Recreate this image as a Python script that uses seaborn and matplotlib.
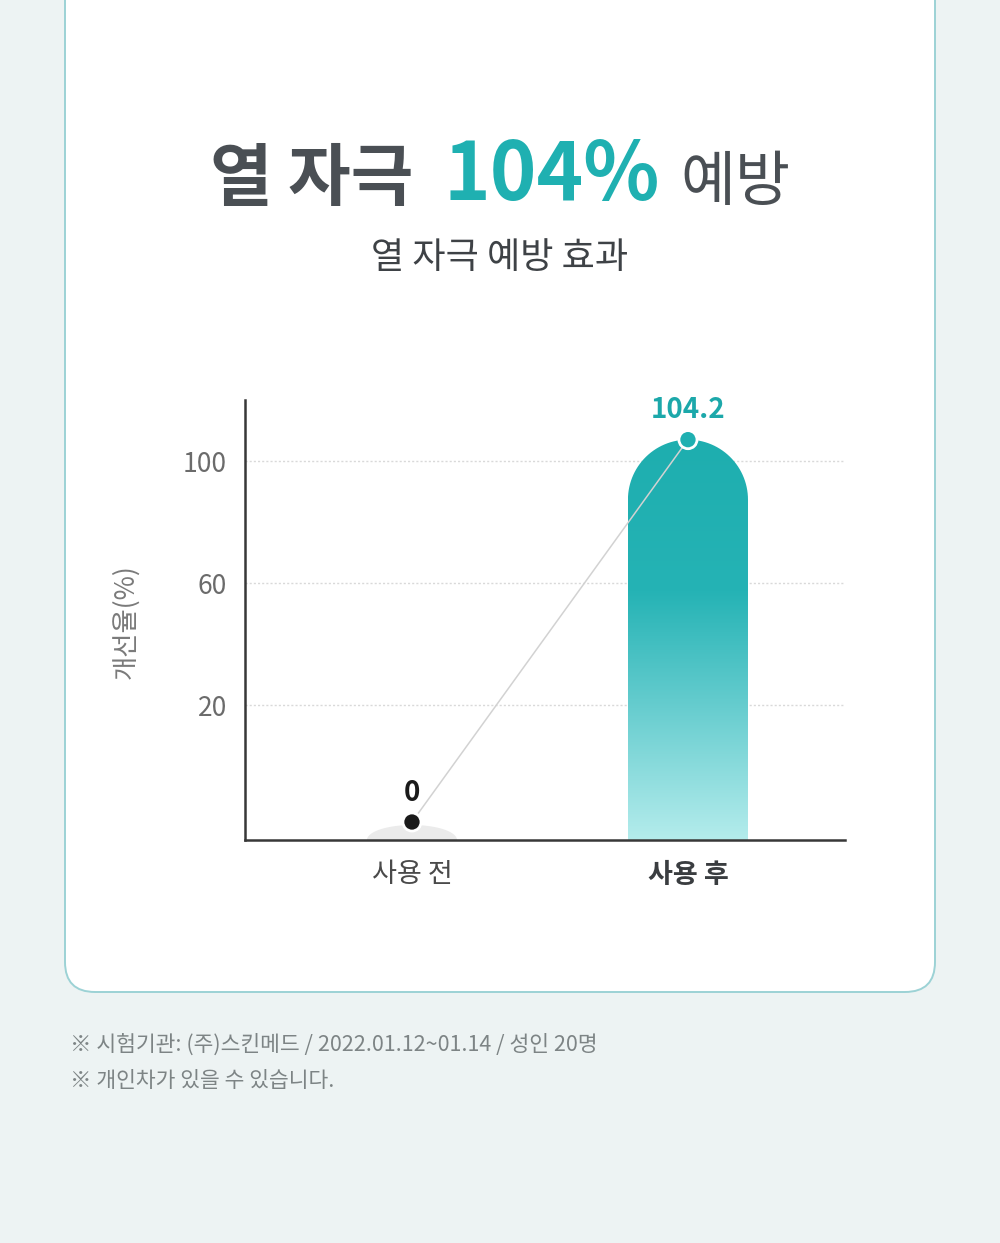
import numpy as np
import pandas as pd
import matplotlib
matplotlib.use('Agg')
import matplotlib.pyplot as plt
import seaborn as sns
from matplotlib.patches import FancyBboxPatch, PathPatch
from matplotlib.path import Path
from matplotlib.colors import LinearSegmentedColormap

# ---------------- data ----------------
categories = ['사용 전', '사용 후']
values = [0, 104.2]
value_labels = ['0', '104.2']
yticks = [20, 60, 100]
ylabel = '개선율(%)'
title_parts = ['열 자극', '104%', '예방']
subtitle = '열 자극 예방 효과'
footnotes = ['※ 시험기관: (주)스킨메드 / 2022.01.12~01.14 / 성인 20명',
             '※ 개인차가 있을 수 있습니다.']

# ---------------- style ----------------
sns.set_theme(style='white')
plt.rcParams['font.family'] = ['Noto Sans CJK KR', 'DejaVu Sans']
plt.rcParams['axes.unicode_minus'] = False

TEAL = '#1fb0b1'
DARK = '#4a4f54'

W, H = 1000, 1243
fig = plt.figure(figsize=(W / 100, H / 100), dpi=100)
fig.patch.set_facecolor('#edf3f3')

# background card
bg = fig.add_axes([0, 0, 1, 1], zorder=0)
bg.set_xlim(0, W)
bg.set_ylim(H, 0)
bg.axis('off')
card = FancyBboxPatch((65, -80), 870, 1072,
                      boxstyle='round,pad=0,rounding_size=30',
                      fc='white', ec='#9cd2d5', lw=1.4)
bg.add_patch(card)

# ---------------- chart axes ----------------
ax = fig.add_axes([245 / W, 1 - 840 / H, 600 / W, 440 / H], zorder=1)
ax.patch.set_alpha(0)

df = pd.DataFrame({'group': categories, 'value': values})

sns.barplot(data=df, x='group', y='value', width=0.435, color=TEAL, ax=ax)

# piecewise-linear value scale (the reference axis is not uniform)
scale_v = [-50, -3.08, 0, 20, 100, 112, 300]
scale_px = [840 + 46.9 * 3.05, 840, 822, 705, 461, 400, 400 - 188 * 5.08]
scale_f = [(840 - p) / 440 for p in scale_px]


def fwd(v):
    return np.interp(np.asarray(v, dtype=float), scale_v, scale_f)


def inv(f):
    return np.interp(np.asarray(f, dtype=float), scale_f, scale_v)


ax.set_yscale('function', functions=(fwd, inv))
XLIM = (-0.605, 1.569)
YLIM = (-3.08, 112)
ax.set_xlim(*XLIM)
ax.set_ylim(*YLIM)

# rounded gradient bars (drawn in figure coordinates from the bar geometry)
to_fig = ax.transData + fig.transFigure.inverted()
cmap = LinearSegmentedColormap.from_list(
    'tealgrad', [(0.0, '#1eaeaf'), (0.38, '#25b3b5'), (0.65, '#62cbcd'), (1.0, '#b4ecec')])
grad = np.linspace(0, 1, 256).reshape(-1, 1)

bars = list(ax.patches)
for p, v in zip(bars, values):
    x0, w = p.get_x(), p.get_width()
    p.set_visible(False)
    (fx0, fy0) = to_fig.transform((x0, YLIM[0]))
    (fx1, fy1) = to_fig.transform((x0 + w, v))
    cx = (fx0 + fx1) / 2
    hw = (fx1 - fx0) / 2
    t = np.linspace(np.pi, 0, 60)
    if v > 0:
        dome = hw * W / H
        xs = cx + hw * np.cos(t)
        ys = (fy1 - dome) + dome * np.sin(t)
        verts = [(fx0, fy0)] + list(zip(xs, ys)) + [(fx1, fy0), (fx0, fy0)]
        codes = [Path.MOVETO] + [Path.LINETO] * (len(verts) - 2) + [Path.CLOSEPOLY]
        clip = PathPatch(Path(verts, codes), transform=fig.transFigure)
        im = ax.imshow(grad, cmap=cmap, aspect='auto', origin='upper',
                       extent=(fx0, fx1, fy0, fy1), transform=fig.transFigure,
                       interpolation='bicubic', zorder=1)
        im.set_clip_path(clip)
    else:
        mhw = hw * 0.75
        mh = 15 / H
        xs = cx + mhw * np.cos(t)
        ys = fy0 + mh * np.sin(t)
        verts = list(zip(xs, ys)) + [(xs[0], ys[0])]
        codes = [Path.MOVETO] + [Path.LINETO] * (len(verts) - 2) + [Path.CLOSEPOLY]
        ax.add_patch(PathPatch(Path(verts, codes), transform=fig.transFigure,
                               fc='#ebebeb', ec='none', zorder=1))

# connecting line and points
sns.lineplot(data=df, x='group', y='value', color='#d2d2d2', lw=1.1,
             ax=ax, zorder=3)
sns.scatterplot(data=df, x='group', y='value', hue='group',
                palette=['#1a1a1a', TEAL], s=170, edgecolor='white',
                linewidth=2.0, legend=False, ax=ax, zorder=4)

for i, (v, lab) in enumerate(zip(values, value_labels)):
    ax.annotate(lab, (i, v), xytext=(0, 21), textcoords='offset points',
                ha='center', va='center', fontsize=20, fontweight='bold',
                color='#1a1a1a' if i == 0 else '#1ca8aa', zorder=5)

ax.set_xlim(*XLIM)
ax.set_ylim(*YLIM)

# axes styling
ax.set_yticks(yticks)
ax.set_yticklabels([str(t) for t in yticks])
ax.tick_params(axis='y', length=0, pad=13, labelsize=19, labelcolor='#6b6b6b')
ax.tick_params(axis='x', length=0, pad=15, labelsize=19.5)
xl = ax.get_xticklabels()
xl[0].set_color('#4a4a4a')
xl[1].set_color('#3a3d40')
xl[1].set_fontweight('bold')

for s in ['top', 'right']:
    ax.spines[s].set_visible(False)
for s in ['left', 'bottom']:
    ax.spines[s].set_color('#383838')
    ax.spines[s].set_linewidth(1.8)

ax.set_axisbelow(True)
ax.yaxis.grid(True, color='#d9d9d9', linestyle=(0, (1.5, 1.5)), lw=1)
ax.xaxis.grid(False)

ax.set_xlabel('')
ax.set_ylabel(ylabel, fontsize=19, color='#7a7a7a')
ax.yaxis.label.set_va('center')
ax.yaxis.set_label_coords((126 - 245) / 600, (840 - 622) / 440)

# ---------------- title ----------------
renderer = fig.canvas.get_renderer()
specs = [(title_parts[0], DARK, 'heavy', 49),
         (title_parts[1], TEAL, 'heavy', 57),
         (title_parts[2], DARK, 'medium', 43)]
base_y = 1 - 200 / H
tobjs = []
for s, c, wgt, fs in specs:
    tobjs.append(fig.text(0, base_y, s, fontsize=fs, color=c, fontweight=wgt,
                          ha='left', va='baseline'))
widths = [t.get_window_extent(renderer).width for t in tobjs]
gaps = [30, 20]
total = sum(widths) + sum(gaps)
x = (W - total) / 2
for i, t in enumerate(tobjs):
    t.set_x(x / W)
    x += widths[i] + (gaps[i] if i < len(gaps) else 0)

fig.text(0.5, 1 - 258 / H, subtitle, fontsize=26, color='#3e4246',
         ha='center', va='center')

# ---------------- footnotes ----------------
for k, note in enumerate(footnotes):
    fig.text(70 / W, 1 - (1045 + 36 * k) / H, note, fontsize=15.5,
             color='#7d8485', ha='left', va='center')

fig.savefig('out.png', dpi=100, facecolor=fig.get_facecolor())
